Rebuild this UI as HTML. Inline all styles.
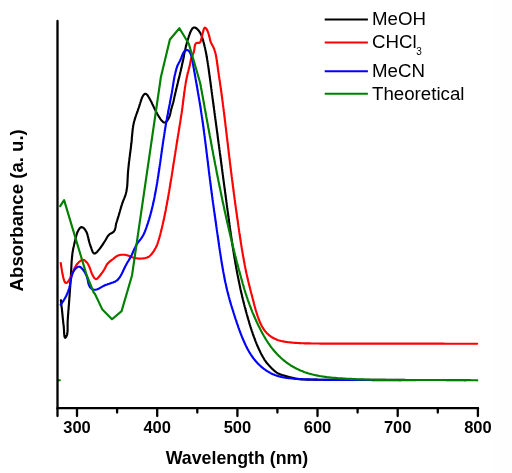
<!DOCTYPE html>
<html><head><meta charset="utf-8"><style>
html,body{margin:0;padding:0;background:#fff;}
body{width:512px;height:473px;overflow:hidden;position:relative;}
svg{position:absolute;left:0;top:0;will-change:transform;}
.strip{position:absolute;left:494px;top:0;width:18px;height:473px;background:#fefefe;}
text{font-family:"Liberation Sans",sans-serif;}
</style></head><body>
<div class="strip"></div>
<svg width="512" height="473" viewBox="0 0 512 473">
<g fill="none" stroke-linejoin="round" stroke-linecap="round" stroke-width="2.15">
<path d="M60.9 300.2 L61.0 301.2 L61.1 302.2 L61.2 303.2 L61.3 304.2 L61.4 305.2 L61.5 306.2 L61.7 307.2 L61.8 308.2 L61.9 309.1 L62.0 310.1 L62.1 311.1 L62.2 312.1 L62.3 313.1 L62.4 314.1 L62.5 315.1 L62.6 316.1 L62.7 317.1 L62.8 318.1 L62.9 319.1 L63.0 320.1 L63.1 321.1 L63.2 322.1 L63.3 323.1 L63.4 324.1 L63.6 325.1 L63.7 326.1 L63.8 327.0 L63.8 328.0 L63.9 329.0 L64.0 330.0 L64.0 331.0 L64.1 332.0 L64.1 333.0 L64.2 334.0 L64.3 335.0 L64.4 336.0 L64.6 337.0 L65.1 337.8 L65.9 337.2 L66.4 336.4 L66.8 335.5 L67.1 334.5 L67.3 333.5 L67.4 332.5 L67.5 331.5 L67.6 330.5 L67.6 329.5 L67.6 328.5 L67.6 327.5 L67.6 326.5 L67.6 325.5 L67.6 324.5 L67.6 323.5 L67.6 322.5 L67.7 321.5 L67.7 320.5 L67.8 319.5 L67.8 318.6 L67.9 317.6 L68.0 316.6 L68.0 315.6 L68.1 314.6 L68.2 313.6 L68.3 312.6 L68.3 311.6 L68.4 310.6 L68.5 309.6 L68.6 308.6 L68.7 307.6 L68.7 306.6 L68.8 305.6 L68.9 304.6 L69.0 303.6 L69.0 302.6 L69.1 301.6 L69.2 300.6 L69.3 299.6 L69.3 298.6 L69.4 297.6 L69.5 296.6 L69.6 295.6 L69.6 294.6 L69.7 293.6 L69.8 292.6 L69.9 291.6 L69.9 290.6 L70.0 289.6 L70.1 288.6 L70.1 287.6 L70.2 286.6 L70.3 285.6 L70.3 284.6 L70.4 283.6 L70.5 282.6 L70.5 281.7 L70.6 280.7 L70.7 279.7 L70.7 278.7 L70.8 277.7 L70.8 276.7 L70.9 275.7 L71.0 274.7 L71.0 273.7 L71.1 272.7 L71.1 271.7 L71.2 270.7 L71.2 269.7 L71.3 268.7 L71.3 267.7 L71.4 266.7 L71.4 265.7 L71.5 264.7 L71.5 263.7 L71.6 262.7 L71.6 261.7 L71.7 260.7 L71.8 259.7 L71.9 258.7 L72.0 257.7 L72.1 256.7 L72.2 255.7 L72.3 254.7 L72.4 253.7 L72.5 252.7 L72.7 251.7 L72.9 250.8 L73.0 249.8 L73.2 248.8 L73.4 247.8 L73.7 246.8 L73.9 245.9 L74.1 244.9 L74.3 243.9 L74.6 242.9 L74.8 242.0 L75.0 241.0 L75.2 240.0 L75.5 239.0 L75.7 238.1 L75.9 237.1 L76.2 236.1 L76.4 235.2 L76.7 234.2 L77.1 233.3 L77.4 232.3 L77.8 231.4 L78.3 230.5 L78.8 229.6 L79.3 228.8 L79.9 228.0 L80.7 227.4 L81.7 227.1 L82.6 227.4 L83.5 227.9 L84.2 228.6 L84.8 229.4 L85.4 230.2 L85.9 231.1 L86.4 231.9 L86.8 232.8 L87.2 233.8 L87.5 234.7 L87.7 235.7 L88.0 236.7 L88.2 237.6 L88.4 238.6 L88.6 239.6 L88.9 240.6 L89.1 241.5 L89.4 242.5 L89.7 243.5 L90.0 244.4 L90.3 245.4 L90.6 246.3 L91.0 247.2 L91.3 248.2 L91.6 249.1 L92.0 250.1 L92.3 251.0 L92.7 251.9 L93.2 252.8 L94.0 253.5 L94.9 253.5 L95.8 253.0 L96.6 252.4 L97.3 251.7 L97.9 250.9 L98.6 250.1 L99.2 249.4 L99.8 248.6 L100.4 247.8 L101.0 247.0 L101.6 246.2 L102.2 245.4 L102.7 244.5 L103.3 243.7 L103.8 242.8 L104.3 242.0 L104.9 241.1 L105.4 240.3 L105.9 239.4 L106.4 238.5 L106.9 237.7 L107.4 236.8 L107.9 236.0 L108.6 235.2 L109.3 234.5 L110.1 233.9 L110.9 233.4 L111.8 233.0 L112.7 232.5 L113.5 231.9 L114.1 231.1 L114.6 230.2 L115.0 229.3 L115.3 228.3 L115.5 227.4 L115.7 226.4 L115.8 225.4 L116.0 224.4 L116.2 223.4 L116.5 222.5 L116.8 221.5 L117.1 220.6 L117.4 219.6 L117.7 218.6 L118.0 217.7 L118.3 216.7 L118.6 215.8 L118.9 214.8 L119.2 213.9 L119.4 212.9 L119.7 212.0 L120.0 211.0 L120.2 210.0 L120.5 209.1 L120.8 208.1 L121.1 207.1 L121.4 206.2 L121.7 205.2 L122.0 204.3 L122.3 203.3 L122.6 202.4 L123.0 201.5 L123.3 200.5 L123.7 199.6 L124.1 198.7 L124.5 197.7 L124.8 196.8 L125.2 195.9 L125.5 194.9 L125.8 194.0 L126.0 193.0 L126.3 192.0 L126.5 191.0 L126.6 190.1 L126.8 189.1 L126.9 188.1 L127.1 187.1 L127.2 186.1 L127.3 185.1 L127.3 184.1 L127.4 183.1 L127.5 182.1 L127.5 181.1 L127.6 180.1 L127.6 179.1 L127.7 178.1 L127.7 177.1 L127.8 176.1 L127.8 175.1 L127.9 174.1 L127.9 173.1 L128.0 172.1 L128.1 171.1 L128.2 170.1 L128.3 169.1 L128.4 168.1 L128.5 167.1 L128.6 166.1 L128.7 165.2 L128.8 164.2 L128.9 163.2 L129.0 162.2 L129.1 161.2 L129.3 160.2 L129.4 159.2 L129.5 158.2 L129.6 157.2 L129.8 156.2 L129.9 155.2 L130.0 154.2 L130.1 153.2 L130.3 152.3 L130.4 151.3 L130.5 150.3 L130.7 149.3 L130.8 148.3 L130.9 147.3 L131.0 146.3 L131.1 145.3 L131.2 144.3 L131.4 143.3 L131.5 142.3 L131.6 141.3 L131.7 140.3 L131.8 139.3 L131.8 138.3 L131.9 137.3 L132.0 136.4 L132.1 135.4 L132.2 134.4 L132.3 133.4 L132.4 132.4 L132.5 131.4 L132.6 130.4 L132.7 129.4 L132.8 128.4 L133.0 127.4 L133.1 126.4 L133.3 125.4 L133.5 124.4 L133.7 123.5 L133.9 122.5 L134.1 121.5 L134.4 120.6 L134.7 119.6 L135.0 118.6 L135.3 117.7 L135.6 116.7 L135.9 115.8 L136.2 114.8 L136.6 113.9 L136.9 113.0 L137.3 112.0 L137.6 111.1 L137.9 110.1 L138.2 109.2 L138.6 108.2 L138.9 107.3 L139.2 106.3 L139.5 105.4 L139.8 104.4 L140.1 103.5 L140.4 102.5 L140.7 101.6 L141.0 100.6 L141.3 99.7 L141.7 98.7 L142.0 97.8 L142.4 96.9 L142.9 96.0 L143.4 95.2 L144.1 94.4 L144.9 93.8 L145.9 93.9 L146.7 94.4 L147.4 95.1 L148.0 95.9 L148.5 96.8 L149.0 97.6 L149.5 98.5 L150.0 99.4 L150.5 100.3 L150.9 101.1 L151.4 102.0 L151.8 102.9 L152.2 103.8 L152.7 104.7 L153.1 105.6 L153.5 106.5 L154.0 107.4 L154.4 108.3 L154.8 109.2 L155.3 110.1 L155.7 111.0 L156.2 111.9 L156.7 112.8 L157.1 113.7 L157.6 114.5 L158.2 115.4 L158.7 116.3 L159.2 117.1 L159.8 117.9 L160.3 118.8 L160.9 119.6 L161.5 120.4 L162.2 121.1 L162.9 121.8 L163.7 122.4 L164.7 122.5 L165.6 122.2 L166.4 121.6 L167.1 120.9 L167.7 120.0 L168.2 119.2 L168.7 118.3 L169.1 117.4 L169.5 116.5 L169.8 115.5 L170.1 114.6 L170.3 113.6 L170.5 112.6 L170.7 111.6 L170.9 110.7 L171.1 109.7 L171.4 108.7 L171.7 107.8 L171.9 106.8 L172.2 105.8 L172.5 104.9 L172.8 103.9 L173.1 103.0 L173.3 102.0 L173.6 101.0 L173.8 100.0 L174.0 99.1 L174.2 98.1 L174.4 97.1 L174.6 96.1 L174.9 95.2 L175.1 94.2 L175.3 93.2 L175.5 92.2 L175.8 91.3 L176.0 90.3 L176.2 89.3 L176.5 88.4 L176.7 87.4 L176.9 86.4 L177.2 85.4 L177.4 84.5 L177.6 83.5 L177.9 82.5 L178.1 81.5 L178.3 80.6 L178.6 79.6 L178.8 78.6 L179.1 77.7 L179.3 76.7 L179.5 75.7 L179.8 74.7 L180.0 73.8 L180.2 72.8 L180.5 71.8 L180.7 70.9 L180.9 69.9 L181.1 68.9 L181.4 67.9 L181.6 67.0 L181.8 66.0 L182.0 65.0 L182.2 64.0 L182.4 63.0 L182.7 62.1 L182.9 61.1 L183.1 60.1 L183.3 59.1 L183.5 58.2 L183.7 57.2 L183.9 56.2 L184.0 55.2 L184.2 54.2 L184.4 53.3 L184.6 52.3 L184.8 51.3 L185.0 50.3 L185.3 49.3 L185.5 48.4 L185.7 47.4 L185.9 46.4 L186.2 45.4 L186.4 44.5 L186.7 43.5 L186.9 42.5 L187.2 41.6 L187.5 40.6 L187.8 39.7 L188.1 38.7 L188.4 37.8 L188.7 36.8 L189.0 35.9 L189.4 34.9 L189.7 34.0 L190.1 33.0 L190.4 32.1 L190.8 31.2 L191.3 30.3 L191.8 29.4 L192.3 28.6 L193.0 27.9 L193.9 27.5 L194.9 27.5 L195.8 27.9 L196.7 28.5 L197.4 29.2 L198.1 29.9 L198.7 30.7 L199.3 31.5 L199.9 32.3 L200.4 33.2 L200.8 34.1 L201.3 35.0 L201.7 35.9 L202.0 36.8 L202.3 37.8 L202.6 38.7 L202.9 39.7 L203.2 40.7 L203.4 41.6 L203.7 42.6 L203.9 43.6 L204.2 44.5 L204.4 45.5 L204.6 46.5 L204.9 47.4 L205.1 48.4 L205.3 49.4 L205.5 50.4 L205.7 51.4 L205.9 52.3 L206.1 53.3 L206.3 54.3 L206.5 55.3 L206.6 56.3 L206.8 57.3 L207.0 58.2 L207.1 59.2 L207.3 60.2 L207.5 61.2 L207.6 62.2 L207.8 63.2 L207.9 64.2 L208.1 65.2 L208.2 66.1 L208.4 67.1 L208.5 68.1 L208.7 69.1 L208.8 70.1 L208.9 71.1 L209.1 72.1 L209.2 73.1 L209.3 74.1 L209.5 75.1 L209.6 76.0 L209.7 77.0 L209.9 78.0 L210.0 79.0 L210.1 80.0 L210.3 81.0 L210.4 82.0 L210.5 83.0 L210.7 84.0 L210.8 85.0 L210.9 86.0 L211.1 87.0 L211.2 87.9 L211.3 88.9 L211.5 89.9 L211.6 90.9 L211.7 91.9 L211.9 92.9 L212.0 93.9 L212.1 94.9 L212.3 95.9 L212.4 96.9 L212.5 97.9 L212.7 98.8 L212.8 99.8 L212.9 100.8 L213.1 101.8 L213.2 102.8 L213.3 103.8 L213.5 104.8 L213.6 105.8 L213.7 106.8 L213.9 107.8 L214.0 108.8 L214.1 109.7 L214.3 110.7 L214.4 111.7 L214.5 112.7 L214.7 113.7 L214.8 114.7 L214.9 115.7 L215.1 116.7 L215.2 117.7 L215.3 118.7 L215.5 119.7 L215.6 120.6 L215.7 121.6 L215.9 122.6 L216.0 123.6 L216.1 124.6 L216.3 125.6 L216.4 126.6 L216.5 127.6 L216.7 128.6 L216.8 129.6 L216.9 130.6 L217.1 131.6 L217.2 132.5 L217.3 133.5 L217.5 134.5 L217.6 135.5 L217.7 136.5 L217.8 137.5 L218.0 138.5 L218.1 139.5 L218.2 140.5 L218.4 141.5 L218.5 142.5 L218.6 143.4 L218.8 144.4 L218.9 145.4 L219.0 146.4 L219.2 147.4 L219.3 148.4 L219.4 149.4 L219.6 150.4 L219.7 151.4 L219.8 152.4 L220.0 153.4 L220.1 154.3 L220.2 155.3 L220.4 156.3 L220.5 157.3 L220.6 158.3 L220.8 159.3 L220.9 160.3 L221.0 161.3 L221.1 162.3 L221.3 163.3 L221.4 164.3 L221.5 165.3 L221.7 166.2 L221.8 167.2 L221.9 168.2 L222.1 169.2 L222.2 170.2 L222.3 171.2 L222.5 172.2 L222.6 173.2 L222.7 174.2 L222.9 175.2 L223.0 176.2 L223.1 177.2 L223.2 178.1 L223.4 179.1 L223.5 180.1 L223.6 181.1 L223.8 182.1 L223.9 183.1 L224.0 184.1 L224.2 185.1 L224.3 186.1 L224.4 187.1 L224.6 188.1 L224.7 189.0 L224.8 190.0 L225.0 191.0 L225.1 192.0 L225.2 193.0 L225.4 194.0 L225.5 195.0 L225.6 196.0 L225.8 197.0 L225.9 198.0 L226.0 199.0 L226.2 199.9 L226.3 200.9 L226.4 201.9 L226.6 202.9 L226.7 203.9 L226.8 204.9 L227.0 205.9 L227.1 206.9 L227.2 207.9 L227.4 208.9 L227.5 209.9 L227.6 210.9 L227.8 211.8 L227.9 212.8 L228.0 213.8 L228.2 214.8 L228.3 215.8 L228.4 216.8 L228.6 217.8 L228.7 218.8 L228.8 219.8 L229.0 220.8 L229.1 221.7 L229.3 222.7 L229.4 223.7 L229.5 224.7 L229.7 225.7 L229.8 226.7 L229.9 227.7 L230.1 228.7 L230.2 229.7 L230.4 230.7 L230.5 231.7 L230.6 232.6 L230.8 233.6 L230.9 234.6 L231.1 235.6 L231.2 236.6 L231.4 237.6 L231.5 238.6 L231.7 239.6 L231.8 240.6 L231.9 241.5 L232.1 242.5 L232.2 243.5 L232.4 244.5 L232.5 245.5 L232.7 246.5 L232.8 247.5 L233.0 248.5 L233.2 249.5 L233.3 250.4 L233.5 251.4 L233.6 252.4 L233.8 253.4 L233.9 254.4 L234.1 255.4 L234.3 256.4 L234.4 257.4 L234.6 258.3 L234.8 259.3 L234.9 260.3 L235.1 261.3 L235.3 262.3 L235.4 263.3 L235.6 264.3 L235.8 265.2 L236.0 266.2 L236.1 267.2 L236.3 268.2 L236.5 269.2 L236.7 270.2 L236.8 271.1 L237.0 272.1 L237.2 273.1 L237.4 274.1 L237.6 275.1 L237.8 276.1 L238.0 277.0 L238.2 278.0 L238.4 279.0 L238.6 280.0 L238.8 281.0 L239.0 281.9 L239.2 282.9 L239.4 283.9 L239.6 284.9 L239.8 285.9 L240.0 286.8 L240.2 287.8 L240.4 288.8 L240.6 289.8 L240.9 290.7 L241.1 291.7 L241.3 292.7 L241.5 293.7 L241.8 294.6 L242.0 295.6 L242.2 296.6 L242.4 297.6 L242.7 298.5 L242.9 299.5 L243.2 300.5 L243.4 301.4 L243.6 302.4 L243.9 303.4 L244.1 304.3 L244.4 305.3 L244.6 306.3 L244.9 307.2 L245.2 308.2 L245.4 309.2 L245.7 310.1 L245.9 311.1 L246.2 312.1 L246.5 313.0 L246.7 314.0 L247.0 315.0 L247.3 315.9 L247.5 316.9 L247.8 317.8 L248.1 318.8 L248.4 319.8 L248.7 320.7 L249.0 321.7 L249.2 322.6 L249.5 323.6 L249.8 324.6 L250.1 325.5 L250.4 326.5 L250.7 327.4 L251.0 328.4 L251.3 329.3 L251.6 330.3 L251.9 331.2 L252.3 332.2 L252.6 333.1 L252.9 334.1 L253.2 335.0 L253.6 336.0 L253.9 336.9 L254.3 337.8 L254.6 338.8 L255.0 339.7 L255.3 340.6 L255.7 341.6 L256.1 342.5 L256.4 343.4 L256.8 344.4 L257.2 345.3 L257.6 346.2 L258.0 347.1 L258.4 348.0 L258.8 348.9 L259.2 349.8 L259.7 350.7 L260.1 351.6 L260.5 352.5 L261.0 353.4 L261.4 354.3 L261.9 355.2 L262.4 356.1 L262.9 357.0 L263.4 357.8 L263.9 358.7 L264.4 359.6 L264.9 360.4 L265.5 361.2 L266.1 362.0 L266.7 362.8 L267.3 363.6 L268.0 364.3 L268.7 365.1 L269.3 365.8 L270.0 366.5 L270.7 367.3 L271.4 368.0 L272.1 368.7 L272.9 369.4 L273.6 370.1 L274.3 370.7 L275.1 371.4 L275.9 372.0 L276.7 372.6 L277.5 373.1 L278.4 373.6 L279.3 374.0 L280.2 374.4 L281.2 374.7 L282.1 375.1 L283.1 375.3 L284.1 375.6 L285.0 375.9 L286.0 376.1 L286.9 376.4 L287.9 376.7 L288.9 376.9 L289.8 377.2 L290.8 377.4 L291.8 377.7 L292.8 377.9 L293.7 378.1 L294.7 378.4 L295.7 378.6 L296.7 378.7 L297.6 378.9 L298.6 379.1 L299.6 379.2 L300.6 379.3 L301.6 379.4 L302.6 379.4 L303.6 379.5 L304.6 379.5 L305.6 379.5 L306.6 379.6 L307.6 379.6 L308.6 379.6 L309.6 379.6 L310.6 379.6 L311.6 379.6 L312.6 379.6 L313.6 379.6 L314.6 379.6 L315.6 379.6 L316.6 379.6 L317.6 379.7 L318.6 379.7 L319.6 379.7 L320.6 379.7 L321.6 379.7 L322.6 379.7 L323.6 379.7 L324.6 379.7 L325.6 379.7 L326.6 379.7 L327.6 379.7 L328.6 379.7 L329.6 379.7 L330.6 379.7 L331.6 379.7 L332.6 379.7 L333.6 379.8 L334.6 379.8 L335.6 379.8 L336.6 379.8 L337.6 379.8 L338.6 379.8 L339.6 379.8 L340.6 379.8 L341.6 379.8 L342.6 379.8 L343.6 379.8 L344.6 379.8 L345.6 379.8 L346.6 379.8 L347.6 379.8 L348.6 379.8 L349.6 379.8 L350.6 379.8 L351.6 379.8 L352.6 379.8 L353.6 379.8 L354.6 379.8 L355.6 379.8 L356.6 379.8 L357.6 379.8 L358.6 379.8 L359.6 379.8 L360.6 379.8 L361.6 379.8 L362.6 379.8 L363.6 379.8 L364.6 379.9 L365.6 379.9 L366.6 379.9 L367.6 379.9 L368.6 379.9 L369.6 379.9 L370.6 379.9 L371.6 379.9 L372.6 379.9 L373.6 379.9 L374.6 379.9 L375.6 379.9 L376.6 379.9 L377.6 379.9 L378.6 379.9 L379.6 379.9 L380.6 379.9 L381.6 379.9 L382.6 379.9 L383.6 379.9 L384.6 379.9 L385.6 379.9 L386.6 379.9 L387.6 379.9 L388.6 379.9 L389.6 379.9 L390.6 379.9 L391.6 379.9 L392.6 379.9 L393.6 379.9 L394.6 379.9 L395.6 379.9 L396.6 379.9 L397.6 379.9 L398.6 379.9 L399.6 379.9 L400.6 379.9 L401.6 379.9 L402.6 379.9 L403.6 379.9 L404.6 379.9 L405.6 380.0 L406.6 380.0 L407.6 380.0 L408.6 380.0 L409.6 380.0 L410.6 380.0 L411.6 380.0 L412.6 380.0 L413.6 380.0 L414.6 380.0 L415.6 380.0 L416.6 380.0 L417.6 380.0 L418.6 380.0 L419.6 380.0 L420.6 380.0 L421.6 380.0 L422.6 380.0 L423.6 380.0 L424.6 380.0 L425.6 380.0 L426.6 380.0 L427.6 380.0 L428.6 380.0 L429.6 380.0 L430.6 380.0 L431.6 380.0 L432.6 380.0 L433.6 380.0 L434.6 380.0 L435.6 380.0 L436.6 380.0 L437.6 380.0 L438.6 380.0 L439.6 380.0 L440.6 380.0 L441.6 380.0 L442.6 380.0 L443.6 380.0 L444.6 380.0 L445.6 380.0 L446.6 380.0 L447.6 380.0 L448.6 380.0 L449.6 380.0 L450.6 380.0 L451.6 380.0 L452.6 380.0 L453.6 380.0 L454.6 380.0 L455.6 380.0 L456.6 380.0 L457.6 380.0 L458.6 380.0 L459.6 380.0 L460.6 380.0 L461.6 380.0 L462.6 380.0 L463.6 380.0 L464.6 380.0 L465.6 380.0 L466.0 380.0" stroke="#000"/>
<path d="M60.7 263.0 L60.9 264.0 L61.0 265.0 L61.2 266.0 L61.4 266.9 L61.5 267.9 L61.7 268.9 L61.8 269.9 L62.0 270.9 L62.1 271.9 L62.3 272.9 L62.5 273.8 L62.7 274.8 L62.9 275.8 L63.1 276.8 L63.4 277.8 L63.6 278.7 L63.9 279.7 L64.2 280.6 L64.6 281.6 L65.1 282.4 L65.9 283.0 L66.8 282.8 L67.6 282.2 L68.2 281.4 L68.8 280.6 L69.3 279.7 L69.8 278.9 L70.3 278.0 L70.7 277.1 L71.1 276.2 L71.5 275.3 L71.9 274.4 L72.3 273.4 L72.7 272.5 L73.1 271.6 L73.5 270.7 L73.8 269.7 L74.3 268.8 L74.7 267.9 L75.2 267.0 L75.7 266.2 L76.2 265.3 L76.8 264.5 L77.4 263.7 L78.1 263.0 L78.8 262.3 L79.5 261.6 L80.3 261.0 L81.1 260.4 L82.0 260.0 L83.0 259.9 L84.0 260.1 L84.9 260.5 L85.6 261.2 L86.3 261.9 L87.0 262.6 L87.6 263.5 L88.1 264.3 L88.6 265.2 L89.0 266.1 L89.4 267.0 L89.8 267.9 L90.1 268.9 L90.5 269.8 L90.8 270.8 L91.1 271.7 L91.5 272.6 L91.9 273.6 L92.3 274.5 L92.7 275.4 L93.2 276.2 L93.7 277.1 L94.3 277.9 L95.0 278.6 L95.9 279.1 L96.8 278.9 L97.6 278.3 L98.3 277.6 L99.0 276.8 L99.6 276.0 L100.2 275.3 L100.8 274.5 L101.4 273.7 L102.0 272.9 L102.6 272.1 L103.2 271.2 L103.7 270.4 L104.3 269.5 L104.7 268.7 L105.2 267.8 L105.6 266.9 L106.1 266.0 L106.5 265.1 L107.1 264.2 L107.7 263.5 L108.4 262.7 L109.1 262.1 L109.9 261.4 L110.7 260.8 L111.5 260.2 L112.3 259.6 L113.1 259.0 L113.8 258.4 L114.6 257.7 L115.4 257.1 L116.2 256.5 L117.1 256.0 L118.0 255.6 L118.9 255.3 L119.9 255.0 L120.9 254.8 L121.9 254.7 L122.9 254.7 L123.9 254.7 L124.8 254.8 L125.8 255.0 L126.8 255.2 L127.8 255.5 L128.7 255.8 L129.6 256.2 L130.6 256.5 L131.5 256.9 L132.4 257.3 L133.4 257.6 L134.3 257.9 L135.3 258.1 L136.3 258.3 L137.3 258.4 L138.3 258.5 L139.3 258.6 L140.3 258.6 L141.3 258.5 L142.3 258.5 L143.3 258.4 L144.3 258.2 L145.3 258.1 L146.2 257.8 L147.2 257.5 L148.1 257.1 L148.9 256.6 L149.7 256.0 L150.5 255.3 L151.2 254.6 L151.8 253.8 L152.4 253.0 L153.0 252.2 L153.6 251.4 L154.1 250.6 L154.6 249.7 L155.1 248.8 L155.6 248.0 L156.1 247.1 L156.5 246.2 L156.9 245.3 L157.3 244.3 L157.6 243.4 L157.9 242.4 L158.2 241.5 L158.5 240.5 L158.8 239.6 L159.1 238.6 L159.4 237.6 L159.6 236.7 L159.9 235.7 L160.2 234.8 L160.4 233.8 L160.7 232.8 L160.9 231.8 L161.2 230.9 L161.4 229.9 L161.6 228.9 L161.9 228.0 L162.1 227.0 L162.3 226.0 L162.6 225.0 L162.8 224.1 L163.0 223.1 L163.2 222.1 L163.4 221.1 L163.7 220.2 L163.9 219.2 L164.1 218.2 L164.3 217.2 L164.5 216.3 L164.7 215.3 L164.9 214.3 L165.1 213.3 L165.3 212.3 L165.5 211.4 L165.7 210.4 L165.9 209.4 L166.0 208.4 L166.2 207.4 L166.4 206.4 L166.6 205.5 L166.8 204.5 L167.0 203.5 L167.1 202.5 L167.3 201.5 L167.5 200.5 L167.7 199.6 L167.9 198.6 L168.0 197.6 L168.2 196.6 L168.4 195.6 L168.6 194.6 L168.7 193.6 L168.9 192.7 L169.1 191.7 L169.2 190.7 L169.4 189.7 L169.6 188.7 L169.7 187.7 L169.9 186.7 L170.1 185.8 L170.2 184.8 L170.4 183.8 L170.5 182.8 L170.7 181.8 L170.9 180.8 L171.0 179.8 L171.2 178.9 L171.4 177.9 L171.5 176.9 L171.7 175.9 L171.8 174.9 L172.0 173.9 L172.1 172.9 L172.3 171.9 L172.5 171.0 L172.6 170.0 L172.8 169.0 L172.9 168.0 L173.1 167.0 L173.2 166.0 L173.4 165.0 L173.5 164.0 L173.7 163.1 L173.8 162.1 L174.0 161.1 L174.2 160.1 L174.3 159.1 L174.5 158.1 L174.6 157.1 L174.8 156.1 L174.9 155.1 L175.1 154.2 L175.2 153.2 L175.4 152.2 L175.5 151.2 L175.7 150.2 L175.9 149.2 L176.0 148.2 L176.2 147.2 L176.3 146.3 L176.5 145.3 L176.6 144.3 L176.8 143.3 L177.0 142.3 L177.1 141.3 L177.3 140.3 L177.4 139.3 L177.6 138.4 L177.7 137.4 L177.9 136.4 L178.1 135.4 L178.2 134.4 L178.4 133.4 L178.6 132.4 L178.7 131.4 L178.9 130.5 L179.0 129.5 L179.2 128.5 L179.4 127.5 L179.5 126.5 L179.7 125.5 L179.8 124.5 L180.0 123.6 L180.2 122.6 L180.3 121.6 L180.5 120.6 L180.6 119.6 L180.8 118.6 L180.9 117.6 L181.1 116.6 L181.2 115.6 L181.4 114.7 L181.5 113.7 L181.7 112.7 L181.8 111.7 L182.0 110.7 L182.1 109.7 L182.2 108.7 L182.4 107.7 L182.5 106.7 L182.6 105.7 L182.8 104.8 L182.9 103.8 L183.0 102.8 L183.1 101.8 L183.3 100.8 L183.4 99.8 L183.5 98.8 L183.6 97.8 L183.8 96.8 L183.9 95.8 L184.0 94.8 L184.1 93.8 L184.3 92.8 L184.4 91.9 L184.5 90.9 L184.7 89.9 L184.8 88.9 L184.9 87.9 L185.1 86.9 L185.3 85.9 L185.4 84.9 L185.6 83.9 L185.7 83.0 L185.9 82.0 L186.1 81.0 L186.3 80.0 L186.5 79.0 L186.7 78.0 L186.9 77.1 L187.1 76.1 L187.3 75.1 L187.5 74.1 L187.8 73.2 L188.0 72.2 L188.3 71.2 L188.5 70.3 L188.8 69.3 L189.0 68.3 L189.3 67.4 L189.5 66.4 L189.8 65.4 L190.0 64.4 L190.2 63.5 L190.3 62.5 L190.5 61.5 L190.7 60.5 L190.9 59.5 L191.2 58.6 L191.4 57.6 L191.8 56.7 L192.2 55.8 L192.6 54.9 L193.1 53.9 L193.4 53.0 L193.8 52.1 L194.0 51.1 L194.2 50.1 L194.4 49.1 L194.5 48.2 L194.6 47.2 L194.7 46.2 L195.0 45.2 L195.3 44.3 L195.9 43.4 L196.7 42.9 L197.7 42.8 L198.7 42.9 L199.7 42.6 L200.4 41.9 L200.8 41.0 L201.1 40.1 L201.3 39.1 L201.5 38.1 L201.7 37.2 L202.0 36.2 L202.2 35.2 L202.4 34.2 L202.7 33.3 L202.9 32.3 L203.2 31.3 L203.5 30.4 L203.7 29.4 L204.1 28.5 L204.8 27.7 L205.7 28.0 L206.3 28.7 L206.9 29.6 L207.3 30.5 L207.7 31.4 L208.1 32.3 L208.4 33.3 L208.7 34.2 L209.0 35.2 L209.2 36.2 L209.5 37.1 L209.7 38.1 L209.9 39.1 L210.1 40.1 L210.4 41.0 L210.7 42.0 L211.1 42.9 L211.6 43.8 L212.0 44.7 L212.5 45.5 L213.0 46.4 L213.4 47.3 L213.8 48.2 L214.2 49.2 L214.5 50.1 L214.8 51.1 L215.1 52.0 L215.4 53.0 L215.6 53.9 L215.8 54.9 L216.0 55.9 L216.2 56.9 L216.4 57.9 L216.5 58.9 L216.7 59.9 L216.8 60.8 L217.0 61.8 L217.1 62.8 L217.2 63.8 L217.4 64.8 L217.5 65.8 L217.7 66.8 L217.8 67.8 L217.9 68.8 L218.1 69.8 L218.2 70.7 L218.4 71.7 L218.5 72.7 L218.7 73.7 L218.8 74.7 L218.9 75.7 L219.1 76.7 L219.2 77.7 L219.4 78.7 L219.5 79.6 L219.7 80.6 L219.8 81.6 L220.0 82.6 L220.1 83.6 L220.2 84.6 L220.4 85.6 L220.5 86.6 L220.7 87.6 L220.8 88.6 L221.0 89.5 L221.1 90.5 L221.2 91.5 L221.4 92.5 L221.5 93.5 L221.6 94.5 L221.8 95.5 L221.9 96.5 L222.0 97.5 L222.2 98.5 L222.3 99.5 L222.4 100.4 L222.6 101.4 L222.7 102.4 L222.8 103.4 L222.9 104.4 L223.1 105.4 L223.2 106.4 L223.3 107.4 L223.5 108.4 L223.6 109.4 L223.7 110.4 L223.8 111.4 L224.0 112.4 L224.1 113.3 L224.2 114.3 L224.3 115.3 L224.4 116.3 L224.6 117.3 L224.7 118.3 L224.8 119.3 L224.9 120.3 L225.1 121.3 L225.2 122.3 L225.3 123.3 L225.4 124.3 L225.5 125.3 L225.6 126.2 L225.8 127.2 L225.9 128.2 L226.0 129.2 L226.1 130.2 L226.2 131.2 L226.4 132.2 L226.5 133.2 L226.6 134.2 L226.7 135.2 L226.8 136.2 L226.9 137.2 L227.1 138.2 L227.2 139.2 L227.3 140.1 L227.4 141.1 L227.5 142.1 L227.7 143.1 L227.8 144.1 L227.9 145.1 L228.0 146.1 L228.1 147.1 L228.2 148.1 L228.4 149.1 L228.5 150.1 L228.6 151.1 L228.7 152.1 L228.8 153.1 L228.9 154.1 L229.1 155.0 L229.2 156.0 L229.3 157.0 L229.4 158.0 L229.5 159.0 L229.7 160.0 L229.8 161.0 L229.9 162.0 L230.0 163.0 L230.1 164.0 L230.3 165.0 L230.4 166.0 L230.5 167.0 L230.6 168.0 L230.8 168.9 L230.9 169.9 L231.0 170.9 L231.1 171.9 L231.3 172.9 L231.4 173.9 L231.5 174.9 L231.6 175.9 L231.7 176.9 L231.9 177.9 L232.0 178.9 L232.1 179.9 L232.3 180.8 L232.4 181.8 L232.5 182.8 L232.6 183.8 L232.8 184.8 L232.9 185.8 L233.0 186.8 L233.2 187.8 L233.3 188.8 L233.4 189.8 L233.5 190.8 L233.7 191.8 L233.8 192.7 L233.9 193.7 L234.1 194.7 L234.2 195.7 L234.3 196.7 L234.5 197.7 L234.6 198.7 L234.7 199.7 L234.9 200.7 L235.0 201.7 L235.1 202.7 L235.3 203.7 L235.4 204.6 L235.5 205.6 L235.7 206.6 L235.8 207.6 L235.9 208.6 L236.1 209.6 L236.2 210.6 L236.4 211.6 L236.5 212.6 L236.6 213.6 L236.8 214.5 L236.9 215.5 L237.0 216.5 L237.2 217.5 L237.3 218.5 L237.5 219.5 L237.6 220.5 L237.8 221.5 L237.9 222.5 L238.0 223.5 L238.2 224.4 L238.3 225.4 L238.5 226.4 L238.6 227.4 L238.8 228.4 L238.9 229.4 L239.0 230.4 L239.2 231.4 L239.3 232.4 L239.5 233.4 L239.6 234.3 L239.8 235.3 L239.9 236.3 L240.1 237.3 L240.2 238.3 L240.4 239.3 L240.5 240.3 L240.7 241.3 L240.8 242.3 L241.0 243.2 L241.1 244.2 L241.3 245.2 L241.5 246.2 L241.6 247.2 L241.8 248.2 L241.9 249.2 L242.1 250.1 L242.3 251.1 L242.4 252.1 L242.6 253.1 L242.8 254.1 L242.9 255.1 L243.1 256.1 L243.3 257.0 L243.5 258.0 L243.6 259.0 L243.8 260.0 L244.0 261.0 L244.2 262.0 L244.4 263.0 L244.6 263.9 L244.7 264.9 L244.9 265.9 L245.1 266.9 L245.3 267.9 L245.5 268.8 L245.7 269.8 L245.9 270.8 L246.1 271.8 L246.3 272.8 L246.5 273.7 L246.8 274.7 L247.0 275.7 L247.2 276.7 L247.4 277.6 L247.6 278.6 L247.9 279.6 L248.1 280.6 L248.3 281.5 L248.6 282.5 L248.8 283.5 L249.0 284.4 L249.3 285.4 L249.5 286.4 L249.8 287.4 L250.0 288.3 L250.3 289.3 L250.5 290.3 L250.8 291.2 L251.0 292.2 L251.3 293.2 L251.5 294.1 L251.8 295.1 L252.0 296.1 L252.3 297.0 L252.5 298.0 L252.8 299.0 L253.0 299.9 L253.3 300.9 L253.5 301.9 L253.8 302.8 L254.0 303.8 L254.3 304.8 L254.5 305.7 L254.8 306.7 L255.1 307.7 L255.3 308.6 L255.6 309.6 L255.9 310.6 L256.2 311.5 L256.5 312.5 L256.8 313.4 L257.1 314.4 L257.4 315.3 L257.7 316.3 L258.0 317.2 L258.4 318.2 L258.7 319.1 L259.1 320.0 L259.4 321.0 L259.8 321.9 L260.2 322.8 L260.6 323.7 L261.1 324.6 L261.5 325.5 L262.0 326.4 L262.5 327.3 L263.0 328.1 L263.5 329.0 L264.1 329.8 L264.7 330.6 L265.3 331.4 L266.0 332.1 L266.6 332.9 L267.3 333.6 L268.1 334.3 L268.8 334.9 L269.6 335.6 L270.4 336.2 L271.2 336.8 L272.0 337.3 L272.9 337.8 L273.8 338.3 L274.7 338.7 L275.6 339.1 L276.5 339.5 L277.5 339.9 L278.4 340.2 L279.4 340.5 L280.3 340.7 L281.3 341.0 L282.3 341.2 L283.3 341.4 L284.2 341.6 L285.2 341.7 L286.2 341.9 L287.2 342.0 L288.2 342.2 L289.2 342.3 L290.2 342.4 L291.2 342.5 L292.2 342.6 L293.2 342.7 L294.2 342.8 L295.2 342.8 L296.2 342.9 L297.2 343.0 L298.2 343.0 L299.2 343.1 L300.2 343.1 L301.2 343.2 L302.2 343.2 L303.2 343.2 L304.2 343.3 L305.2 343.3 L306.2 343.3 L307.2 343.4 L308.2 343.4 L309.2 343.4 L310.2 343.4 L311.1 343.5 L312.1 343.5 L313.1 343.5 L314.1 343.5 L315.1 343.5 L316.1 343.5 L317.1 343.5 L318.1 343.5 L319.1 343.5 L320.1 343.6 L321.1 343.6 L322.1 343.6 L323.1 343.6 L324.1 343.6 L325.1 343.6 L326.1 343.6 L327.1 343.6 L328.1 343.6 L329.1 343.6 L330.1 343.6 L331.1 343.6 L332.1 343.6 L333.1 343.6 L334.1 343.6 L335.1 343.6 L336.1 343.6 L337.1 343.6 L338.1 343.6 L339.1 343.6 L340.1 343.6 L341.1 343.6 L342.1 343.6 L343.1 343.6 L344.1 343.6 L345.1 343.6 L346.1 343.6 L347.1 343.6 L348.1 343.6 L349.1 343.6 L350.1 343.6 L351.1 343.6 L352.1 343.6 L353.1 343.6 L354.1 343.6 L355.1 343.6 L356.1 343.6 L357.1 343.6 L358.1 343.6 L359.1 343.6 L360.1 343.6 L361.1 343.6 L362.1 343.6 L363.1 343.6 L364.1 343.6 L365.1 343.6 L366.1 343.6 L367.1 343.6 L368.1 343.6 L369.1 343.6 L370.1 343.6 L371.1 343.6 L372.1 343.6 L373.1 343.6 L374.1 343.6 L375.1 343.6 L376.1 343.6 L377.1 343.6 L378.1 343.6 L379.1 343.6 L380.1 343.6 L381.1 343.6 L382.1 343.6 L383.1 343.6 L384.1 343.6 L385.1 343.6 L386.1 343.6 L387.1 343.6 L388.1 343.6 L389.1 343.6 L390.1 343.6 L391.1 343.6 L392.1 343.6 L393.1 343.6 L394.1 343.6 L395.1 343.6 L396.1 343.6 L397.1 343.6 L398.1 343.6 L399.1 343.6 L400.1 343.6 L401.1 343.6 L402.1 343.6 L403.1 343.6 L404.1 343.6 L405.1 343.6 L406.1 343.6 L407.1 343.6 L408.1 343.6 L409.1 343.6 L410.1 343.6 L411.1 343.6 L412.1 343.6 L413.1 343.6 L414.1 343.6 L415.1 343.6 L416.1 343.6 L417.1 343.6 L418.1 343.6 L419.1 343.6 L420.1 343.6 L421.1 343.6 L422.1 343.6 L423.1 343.6 L424.1 343.6 L425.1 343.6 L426.1 343.6 L427.1 343.6 L428.1 343.6 L429.1 343.6 L430.1 343.6 L431.1 343.6 L432.1 343.6 L433.1 343.6 L434.1 343.6 L435.1 343.6 L436.1 343.6 L437.1 343.6 L438.1 343.6 L439.1 343.6 L440.1 343.6 L441.1 343.6 L442.1 343.6 L443.1 343.6 L444.1 343.6 L445.1 343.7 L446.1 343.7 L447.1 343.7 L448.1 343.7 L449.1 343.7 L450.1 343.7 L451.1 343.7 L452.1 343.7 L453.1 343.7 L454.1 343.7 L455.1 343.7 L456.1 343.7 L457.1 343.7 L458.1 343.7 L459.1 343.7 L460.1 343.7 L461.1 343.7 L462.1 343.7 L463.1 343.7 L464.1 343.7 L465.1 343.7 L466.1 343.7 L467.1 343.7 L468.1 343.7 L469.1 343.7 L470.1 343.7 L471.1 343.7 L472.1 343.7 L473.1 343.7 L474.1 343.7 L475.1 343.7 L476.1 343.7 L477.1 343.7 L477.2 343.7" stroke="#ff0000"/>
<path d="M60.7 304.6 L61.3 303.8 L61.9 303.0 L62.5 302.2 L63.0 301.3 L63.6 300.5 L64.1 299.7 L64.6 298.8 L65.1 297.9 L65.6 297.1 L66.1 296.2 L66.5 295.3 L66.9 294.4 L67.3 293.5 L67.7 292.5 L68.1 291.6 L68.4 290.7 L68.7 289.7 L69.0 288.8 L69.3 287.8 L69.5 286.8 L69.8 285.8 L70.0 284.9 L70.1 283.9 L70.3 282.9 L70.5 281.9 L70.7 280.9 L70.8 279.9 L71.0 279.0 L71.2 278.0 L71.5 277.0 L71.7 276.0 L72.0 275.1 L72.3 274.1 L72.6 273.2 L73.0 272.3 L73.5 271.4 L74.0 270.5 L74.6 269.7 L75.2 269.0 L76.0 268.3 L76.7 267.6 L77.6 267.1 L78.5 266.8 L79.5 266.7 L80.4 267.1 L81.2 267.7 L81.9 268.4 L82.6 269.2 L83.2 269.9 L83.8 270.8 L84.3 271.6 L84.9 272.4 L85.3 273.3 L85.8 274.2 L86.2 275.1 L86.6 276.0 L86.9 277.0 L87.2 277.9 L87.5 278.9 L87.7 279.9 L87.9 280.9 L88.1 281.8 L88.3 282.8 L88.5 283.8 L88.8 284.7 L89.2 285.7 L89.7 286.6 L90.2 287.4 L90.9 288.1 L91.7 288.7 L92.6 289.2 L93.5 289.5 L94.5 289.7 L95.5 289.7 L96.5 289.5 L97.4 289.2 L98.4 288.8 L99.3 288.4 L100.1 287.9 L101.0 287.4 L101.9 286.9 L102.7 286.4 L103.6 285.9 L104.5 285.5 L105.4 285.1 L106.4 284.7 L107.3 284.4 L108.2 284.0 L109.2 283.7 L110.1 283.4 L111.1 283.1 L112.0 282.8 L113.0 282.5 L113.9 282.1 L114.8 281.7 L115.7 281.2 L116.5 280.7 L117.3 280.1 L118.1 279.4 L118.7 278.6 L119.3 277.8 L119.9 277.0 L120.4 276.2 L120.9 275.3 L121.4 274.4 L121.9 273.5 L122.3 272.6 L122.8 271.7 L123.2 270.8 L123.6 269.9 L124.0 269.0 L124.5 268.1 L124.9 267.2 L125.3 266.3 L125.8 265.4 L126.3 264.5 L126.7 263.7 L127.2 262.8 L127.7 261.9 L128.3 261.1 L128.8 260.2 L129.3 259.4 L129.8 258.5 L130.3 257.6 L130.8 256.8 L131.2 255.9 L131.7 255.0 L132.1 254.1 L132.5 253.2 L132.9 252.3 L133.3 251.3 L133.7 250.4 L134.1 249.5 L134.5 248.6 L135.0 247.7 L135.4 246.8 L135.9 245.9 L136.3 245.0 L136.9 244.2 L137.4 243.3 L138.0 242.5 L138.6 241.7 L139.2 240.9 L139.8 240.2 L140.5 239.4 L141.1 238.6 L141.6 237.8 L142.2 236.9 L142.7 236.1 L143.2 235.2 L143.7 234.3 L144.1 233.4 L144.5 232.5 L144.9 231.6 L145.2 230.6 L145.6 229.7 L145.9 228.8 L146.3 227.8 L146.6 226.9 L146.9 225.9 L147.3 225.0 L147.6 224.0 L147.9 223.1 L148.2 222.1 L148.5 221.2 L148.8 220.2 L149.1 219.3 L149.4 218.3 L149.7 217.4 L149.9 216.4 L150.2 215.4 L150.5 214.5 L150.7 213.5 L151.0 212.5 L151.3 211.6 L151.5 210.6 L151.7 209.6 L152.0 208.7 L152.2 207.7 L152.4 206.7 L152.7 205.7 L152.9 204.8 L153.1 203.8 L153.3 202.8 L153.5 201.8 L153.8 200.9 L154.0 199.9 L154.2 198.9 L154.4 197.9 L154.6 196.9 L154.7 196.0 L154.9 195.0 L155.1 194.0 L155.3 193.0 L155.5 192.0 L155.7 191.0 L155.9 190.1 L156.0 189.1 L156.2 188.1 L156.4 187.1 L156.6 186.1 L156.7 185.1 L156.9 184.2 L157.1 183.2 L157.2 182.2 L157.4 181.2 L157.5 180.2 L157.7 179.2 L157.9 178.2 L158.0 177.2 L158.2 176.3 L158.3 175.3 L158.5 174.3 L158.6 173.3 L158.8 172.3 L158.9 171.3 L159.1 170.3 L159.2 169.3 L159.4 168.3 L159.5 167.4 L159.6 166.4 L159.8 165.4 L159.9 164.4 L160.1 163.4 L160.2 162.4 L160.4 161.4 L160.5 160.4 L160.6 159.4 L160.8 158.4 L160.9 157.5 L161.1 156.5 L161.2 155.5 L161.3 154.5 L161.5 153.5 L161.6 152.5 L161.8 151.5 L161.9 150.5 L162.0 149.5 L162.2 148.5 L162.3 147.6 L162.5 146.6 L162.6 145.6 L162.7 144.6 L162.9 143.6 L163.0 142.6 L163.2 141.6 L163.3 140.6 L163.5 139.6 L163.6 138.7 L163.8 137.7 L163.9 136.7 L164.1 135.7 L164.2 134.7 L164.4 133.7 L164.5 132.7 L164.7 131.7 L164.8 130.7 L165.0 129.8 L165.2 128.8 L165.3 127.8 L165.5 126.8 L165.6 125.8 L165.8 124.8 L166.0 123.8 L166.1 122.9 L166.3 121.9 L166.5 120.9 L166.7 119.9 L166.8 118.9 L167.0 117.9 L167.2 116.9 L167.4 116.0 L167.6 115.0 L167.8 114.0 L168.0 113.0 L168.1 112.0 L168.3 111.1 L168.5 110.1 L168.7 109.1 L168.9 108.1 L169.1 107.1 L169.3 106.1 L169.5 105.2 L169.7 104.2 L169.9 103.2 L170.0 102.2 L170.2 101.2 L170.4 100.3 L170.6 99.3 L170.8 98.3 L171.0 97.3 L171.2 96.3 L171.3 95.3 L171.5 94.4 L171.7 93.4 L171.9 92.4 L172.0 91.4 L172.2 90.4 L172.4 89.4 L172.5 88.4 L172.7 87.5 L172.8 86.5 L173.0 85.5 L173.2 84.5 L173.3 83.5 L173.5 82.5 L173.6 81.5 L173.8 80.5 L174.0 79.6 L174.2 78.6 L174.3 77.6 L174.5 76.6 L174.7 75.6 L174.9 74.7 L175.2 73.7 L175.4 72.7 L175.6 71.7 L175.9 70.8 L176.1 69.8 L176.4 68.8 L176.7 67.9 L177.0 66.9 L177.4 66.0 L177.7 65.1 L178.2 64.2 L178.6 63.3 L179.1 62.4 L179.6 61.5 L180.1 60.7 L180.5 59.8 L180.9 58.8 L181.3 57.9 L181.6 57.0 L182.0 56.0 L182.3 55.1 L182.7 54.2 L183.1 53.3 L183.6 52.4 L184.2 51.6 L184.9 50.9 L185.7 50.3 L186.7 50.0 L187.6 50.1 L188.5 50.6 L189.2 51.3 L189.7 52.2 L190.2 53.0 L190.7 53.9 L191.0 54.9 L191.3 55.8 L191.6 56.8 L191.9 57.7 L192.1 58.7 L192.3 59.7 L192.4 60.7 L192.6 61.7 L192.8 62.7 L192.9 63.6 L193.1 64.6 L193.3 65.6 L193.4 66.6 L193.6 67.6 L193.8 68.6 L194.0 69.6 L194.1 70.5 L194.3 71.5 L194.5 72.5 L194.7 73.5 L194.8 74.5 L195.0 75.5 L195.2 76.4 L195.4 77.4 L195.5 78.4 L195.7 79.4 L195.9 80.4 L196.1 81.4 L196.2 82.4 L196.4 83.3 L196.6 84.3 L196.7 85.3 L196.9 86.3 L197.1 87.3 L197.3 88.3 L197.4 89.3 L197.6 90.2 L197.8 91.2 L197.9 92.2 L198.1 93.2 L198.3 94.2 L198.5 95.2 L198.6 96.2 L198.8 97.1 L199.0 98.1 L199.1 99.1 L199.3 100.1 L199.5 101.1 L199.6 102.1 L199.8 103.1 L199.9 104.0 L200.1 105.0 L200.3 106.0 L200.4 107.0 L200.6 108.0 L200.7 109.0 L200.9 110.0 L201.0 111.0 L201.2 111.9 L201.3 112.9 L201.5 113.9 L201.6 114.9 L201.8 115.9 L201.9 116.9 L202.1 117.9 L202.2 118.9 L202.4 119.9 L202.5 120.8 L202.6 121.8 L202.8 122.8 L202.9 123.8 L203.1 124.8 L203.2 125.8 L203.3 126.8 L203.5 127.8 L203.6 128.8 L203.7 129.8 L203.9 130.8 L204.0 131.7 L204.1 132.7 L204.3 133.7 L204.4 134.7 L204.5 135.7 L204.7 136.7 L204.8 137.7 L204.9 138.7 L205.0 139.7 L205.2 140.7 L205.3 141.7 L205.4 142.7 L205.5 143.6 L205.7 144.6 L205.8 145.6 L205.9 146.6 L206.0 147.6 L206.2 148.6 L206.3 149.6 L206.4 150.6 L206.5 151.6 L206.6 152.6 L206.8 153.6 L206.9 154.6 L207.0 155.6 L207.1 156.5 L207.2 157.5 L207.4 158.5 L207.5 159.5 L207.6 160.5 L207.7 161.5 L207.9 162.5 L208.0 163.5 L208.1 164.5 L208.2 165.5 L208.3 166.5 L208.5 167.5 L208.6 168.5 L208.7 169.5 L208.8 170.4 L208.9 171.4 L209.1 172.4 L209.2 173.4 L209.3 174.4 L209.4 175.4 L209.6 176.4 L209.7 177.4 L209.8 178.4 L209.9 179.4 L210.1 180.4 L210.2 181.4 L210.3 182.4 L210.4 183.3 L210.6 184.3 L210.7 185.3 L210.8 186.3 L211.0 187.3 L211.1 188.3 L211.2 189.3 L211.3 190.3 L211.5 191.3 L211.6 192.3 L211.7 193.3 L211.9 194.2 L212.0 195.2 L212.1 196.2 L212.3 197.2 L212.4 198.2 L212.5 199.2 L212.7 200.2 L212.8 201.2 L212.9 202.2 L213.1 203.2 L213.2 204.2 L213.4 205.1 L213.5 206.1 L213.6 207.1 L213.8 208.1 L213.9 209.1 L214.0 210.1 L214.2 211.1 L214.3 212.1 L214.5 213.1 L214.6 214.1 L214.7 215.1 L214.9 216.0 L215.0 217.0 L215.2 218.0 L215.3 219.0 L215.4 220.0 L215.6 221.0 L215.7 222.0 L215.9 223.0 L216.0 224.0 L216.1 225.0 L216.3 225.9 L216.4 226.9 L216.6 227.9 L216.7 228.9 L216.8 229.9 L217.0 230.9 L217.1 231.9 L217.3 232.9 L217.4 233.9 L217.6 234.9 L217.7 235.8 L217.8 236.8 L218.0 237.8 L218.1 238.8 L218.3 239.8 L218.4 240.8 L218.6 241.8 L218.7 242.8 L218.8 243.8 L219.0 244.8 L219.1 245.7 L219.3 246.7 L219.4 247.7 L219.6 248.7 L219.7 249.7 L219.9 250.7 L220.0 251.7 L220.2 252.7 L220.3 253.7 L220.5 254.6 L220.6 255.6 L220.8 256.6 L220.9 257.6 L221.1 258.6 L221.2 259.6 L221.4 260.6 L221.5 261.6 L221.7 262.5 L221.9 263.5 L222.0 264.5 L222.2 265.5 L222.4 266.5 L222.5 267.5 L222.7 268.5 L222.9 269.4 L223.1 270.4 L223.2 271.4 L223.4 272.4 L223.6 273.4 L223.8 274.4 L224.0 275.3 L224.2 276.3 L224.3 277.3 L224.5 278.3 L224.7 279.3 L224.9 280.3 L225.1 281.2 L225.3 282.2 L225.6 283.2 L225.8 284.2 L226.0 285.1 L226.2 286.1 L226.4 287.1 L226.6 288.1 L226.9 289.0 L227.1 290.0 L227.3 291.0 L227.6 292.0 L227.8 292.9 L228.1 293.9 L228.3 294.9 L228.6 295.8 L228.8 296.8 L229.1 297.8 L229.4 298.7 L229.6 299.7 L229.9 300.7 L230.2 301.6 L230.4 302.6 L230.7 303.5 L231.0 304.5 L231.3 305.5 L231.6 306.4 L231.9 307.4 L232.2 308.3 L232.5 309.3 L232.8 310.2 L233.1 311.2 L233.4 312.1 L233.7 313.1 L234.0 314.0 L234.3 315.0 L234.6 315.9 L234.9 316.9 L235.2 317.8 L235.5 318.8 L235.8 319.7 L236.2 320.7 L236.5 321.6 L236.8 322.6 L237.1 323.5 L237.4 324.5 L237.8 325.4 L238.1 326.4 L238.4 327.3 L238.8 328.3 L239.1 329.2 L239.4 330.1 L239.8 331.1 L240.1 332.0 L240.5 333.0 L240.8 333.9 L241.2 334.8 L241.6 335.8 L241.9 336.7 L242.3 337.6 L242.7 338.5 L243.1 339.5 L243.5 340.4 L243.9 341.3 L244.3 342.2 L244.7 343.1 L245.1 344.0 L245.5 344.9 L245.9 345.8 L246.4 346.7 L246.8 347.6 L247.3 348.5 L247.8 349.4 L248.3 350.3 L248.7 351.1 L249.2 352.0 L249.8 352.9 L250.3 353.7 L250.8 354.6 L251.4 355.4 L251.9 356.2 L252.5 357.0 L253.1 357.8 L253.7 358.6 L254.3 359.4 L255.0 360.2 L255.6 361.0 L256.3 361.7 L256.9 362.5 L257.6 363.2 L258.3 363.9 L259.0 364.6 L259.7 365.3 L260.5 366.0 L261.2 366.7 L262.0 367.3 L262.8 367.9 L263.5 368.6 L264.3 369.2 L265.1 369.7 L266.0 370.3 L266.8 370.9 L267.6 371.4 L268.5 371.9 L269.4 372.4 L270.2 372.9 L271.1 373.4 L272.0 373.8 L272.9 374.2 L273.9 374.6 L274.8 375.0 L275.7 375.3 L276.7 375.6 L277.6 375.9 L278.6 376.2 L279.6 376.5 L280.5 376.7 L281.5 377.0 L282.5 377.2 L283.5 377.4 L284.4 377.5 L285.4 377.7 L286.4 377.9 L287.4 378.0 L288.4 378.1 L289.4 378.2 L290.4 378.3 L291.4 378.4 L292.4 378.5 L293.4 378.6 L294.4 378.7 L295.4 378.8 L296.4 378.8 L297.4 378.9 L298.4 379.0 L299.4 379.0 L300.4 379.1 L301.4 379.1 L302.4 379.2 L303.4 379.2 L304.4 379.3 L305.4 379.3 L306.4 379.3 L307.4 379.4 L308.4 379.4 L309.3 379.4 L310.3 379.5 L311.3 379.5 L312.3 379.5 L313.3 379.6 L314.3 379.6 L315.3 379.6 L316.3 379.6 L317.3 379.6 L318.3 379.7 L319.3 379.7 L320.3 379.7 L321.3 379.7 L322.3 379.7 L323.3 379.7 L324.3 379.8 L325.3 379.8 L326.3 379.8 L327.3 379.8 L328.3 379.8 L329.3 379.8 L330.3 379.8 L331.3 379.8 L332.3 379.8 L333.3 379.9 L334.3 379.9 L335.3 379.9 L336.3 379.9 L337.3 379.9 L338.3 379.9 L339.3 379.9 L340.3 379.9 L341.3 379.9 L342.3 379.9 L343.3 379.9 L344.3 379.9 L345.3 380.0 L346.3 380.0 L347.3 380.0 L348.3 380.0 L349.3 380.0 L350.3 380.0 L351.3 380.0 L352.3 380.0 L353.3 380.0 L354.3 380.0 L355.3 380.0 L356.3 380.0 L357.3 380.0 L358.3 380.0 L359.3 380.0 L360.3 380.0 L361.3 380.0 L362.3 380.0 L363.3 380.0 L364.3 380.0 L365.3 380.0 L366.3 380.0 L367.3 380.0 L368.3 380.0 L369.3 380.0 L370.3 380.0 L371.3 380.0 L372.3 380.1 L373.3 380.1 L374.3 380.1 L375.3 380.1 L376.3 380.1 L377.3 380.1 L378.3 380.1 L379.3 380.1 L380.3 380.1 L381.3 380.1 L382.3 380.1 L383.3 380.1 L384.3 380.1 L385.3 380.1 L386.3 380.1 L387.3 380.1 L388.3 380.1 L389.3 380.1 L390.3 380.1 L391.3 380.1 L392.3 380.1 L393.3 380.1 L394.3 380.1 L395.3 380.1 L396.3 380.1 L397.3 380.1 L398.3 380.1 L399.3 380.1 L400.3 380.1 L401.3 380.0 L402.3 380.0 L403.3 380.0 L404.3 380.0 L405.3 380.0 L406.3 380.0 L407.3 380.0 L408.3 380.0 L409.3 380.0 L410.3 380.0 L411.3 380.0 L412.3 380.0 L413.3 380.0 L414.3 380.0 L415.3 380.0 L416.3 380.0 L417.3 380.0 L418.3 380.0 L419.3 380.0 L420.3 380.0 L421.3 380.0 L422.3 380.0 L423.3 380.0 L424.3 380.0 L425.3 380.0 L426.3 380.0 L427.3 380.0 L428.3 380.0 L429.3 380.0 L430.3 380.0 L431.3 380.0 L432.3 380.0 L433.3 380.0 L434.3 380.0 L435.3 380.0 L436.3 380.0 L437.3 380.0 L438.3 380.0 L439.3 380.0 L440.3 380.0 L441.3 380.0 L442.3 380.0 L443.3 380.0 L444.3 380.0 L445.3 380.0 L446.3 380.1 L447.3 380.1 L448.3 380.1 L449.3 380.1 L450.3 380.1 L451.3 380.1 L452.3 380.1 L453.3 380.1 L454.3 380.1 L455.3 380.1 L456.3 380.1 L457.3 380.1 L458.3 380.1 L459.3 380.1 L460.3 380.1 L461.3 380.1 L462.3 380.1 L463.3 380.1 L464.3 380.1 L465.3 380.1 L466.0 380.1" stroke="#0000ff"/>
<path d="M60.2 206.1 L64.1 200.1 L86.6 275.0 L93.7 292.5 L95.0 294.0 L102.4 309.6 L112.0 319.2 L121.6 311.1 L132.0 275.5 L160.9 77.0 L169.9 39.5 L179.4 28.2 L188.8 43.8 L195.0 65.0 L200.1 82.8 L200.3 83.8 L200.5 84.7 L200.7 85.7 L200.9 86.7 L201.0 87.7 L201.2 88.7 L201.4 89.7 L201.6 90.6 L201.8 91.6 L201.9 92.6 L202.1 93.6 L202.3 94.6 L202.5 95.6 L202.7 96.6 L202.8 97.5 L203.0 98.5 L203.2 99.5 L203.4 100.5 L203.6 101.5 L203.7 102.5 L203.9 103.4 L204.1 104.4 L204.3 105.4 L204.5 106.4 L204.6 107.4 L204.8 108.4 L205.0 109.3 L205.2 110.3 L205.3 111.3 L205.5 112.3 L205.7 113.3 L205.9 114.3 L206.1 115.2 L206.2 116.2 L206.4 117.2 L206.6 118.2 L206.8 119.2 L207.0 120.2 L207.1 121.1 L207.3 122.1 L207.5 123.1 L207.7 124.1 L207.9 125.1 L208.0 126.1 L208.2 127.1 L208.4 128.0 L208.6 129.0 L208.8 130.0 L208.9 131.0 L209.1 132.0 L209.3 133.0 L209.5 133.9 L209.7 134.9 L209.8 135.9 L210.0 136.9 L210.2 137.9 L210.4 138.9 L210.6 139.8 L210.8 140.8 L210.9 141.8 L211.1 142.8 L211.3 143.8 L211.5 144.8 L211.7 145.7 L211.9 146.7 L212.0 147.7 L212.2 148.7 L212.4 149.7 L212.6 150.6 L212.8 151.6 L213.0 152.6 L213.1 153.6 L213.3 154.6 L213.5 155.6 L213.7 156.5 L213.9 157.5 L214.1 158.5 L214.3 159.5 L214.5 160.5 L214.6 161.5 L214.8 162.4 L215.0 163.4 L215.2 164.4 L215.4 165.4 L215.6 166.4 L215.8 167.3 L216.0 168.3 L216.2 169.3 L216.4 170.3 L216.5 171.3 L216.7 172.3 L216.9 173.2 L217.1 174.2 L217.3 175.2 L217.5 176.2 L217.7 177.2 L217.9 178.1 L218.1 179.1 L218.3 180.1 L218.5 181.1 L218.7 182.1 L218.9 183.0 L219.1 184.0 L219.3 185.0 L219.5 186.0 L219.7 187.0 L219.9 187.9 L220.1 188.9 L220.3 189.9 L220.5 190.9 L220.7 191.9 L220.9 192.8 L221.1 193.8 L221.3 194.8 L221.5 195.8 L221.7 196.8 L221.9 197.7 L222.1 198.7 L222.3 199.7 L222.5 200.7 L222.7 201.7 L222.9 202.6 L223.1 203.6 L223.4 204.6 L223.6 205.6 L223.8 206.5 L224.0 207.5 L224.2 208.5 L224.4 209.5 L224.6 210.4 L224.8 211.4 L225.0 212.4 L225.3 213.4 L225.5 214.4 L225.7 215.3 L225.9 216.3 L226.1 217.3 L226.3 218.3 L226.6 219.2 L226.8 220.2 L227.0 221.2 L227.2 222.2 L227.4 223.1 L227.7 224.1 L227.9 225.1 L228.1 226.1 L228.3 227.0 L228.6 228.0 L228.8 229.0 L229.0 230.0 L229.2 230.9 L229.5 231.9 L229.7 232.9 L229.9 233.9 L230.2 234.8 L230.4 235.8 L230.6 236.8 L230.8 237.7 L231.1 238.7 L231.3 239.7 L231.5 240.7 L231.8 241.6 L232.0 242.6 L232.3 243.6 L232.5 244.6 L232.7 245.5 L233.0 246.5 L233.2 247.5 L233.4 248.4 L233.7 249.4 L233.9 250.4 L234.2 251.3 L234.4 252.3 L234.7 253.3 L234.9 254.3 L235.1 255.2 L235.4 256.2 L235.6 257.2 L235.9 258.1 L236.1 259.1 L236.4 260.1 L236.6 261.0 L236.9 262.0 L237.1 263.0 L237.4 263.9 L237.6 264.9 L237.9 265.9 L238.2 266.8 L238.4 267.8 L238.7 268.8 L238.9 269.7 L239.2 270.7 L239.4 271.7 L239.7 272.6 L240.0 273.6 L240.2 274.6 L240.5 275.5 L240.8 276.5 L241.0 277.5 L241.3 278.4 L241.6 279.4 L241.8 280.4 L242.1 281.3 L242.4 282.3 L242.6 283.2 L242.9 284.2 L243.2 285.2 L243.5 286.1 L243.8 287.1 L244.0 288.0 L244.3 289.0 L244.6 290.0 L244.9 290.9 L245.2 291.9 L245.5 292.8 L245.8 293.8 L246.1 294.7 L246.4 295.7 L246.7 296.6 L247.1 297.6 L247.4 298.5 L247.7 299.5 L248.0 300.4 L248.4 301.4 L248.7 302.3 L249.0 303.2 L249.4 304.2 L249.7 305.1 L250.1 306.1 L250.4 307.0 L250.8 307.9 L251.1 308.9 L251.5 309.8 L251.9 310.7 L252.2 311.6 L252.6 312.6 L253.0 313.5 L253.4 314.4 L253.8 315.3 L254.2 316.3 L254.6 317.2 L255.0 318.1 L255.4 319.0 L255.8 319.9 L256.2 320.8 L256.6 321.7 L257.0 322.6 L257.5 323.5 L257.9 324.5 L258.3 325.4 L258.8 326.3 L259.2 327.1 L259.7 328.0 L260.1 328.9 L260.6 329.8 L261.0 330.7 L261.5 331.6 L262.0 332.5 L262.4 333.4 L262.9 334.2 L263.4 335.1 L263.9 336.0 L264.4 336.8 L264.9 337.7 L265.4 338.6 L266.0 339.4 L266.5 340.3 L267.0 341.1 L267.6 341.9 L268.1 342.8 L268.7 343.6 L269.3 344.4 L269.8 345.2 L270.4 346.1 L271.0 346.9 L271.6 347.7 L272.2 348.4 L272.8 349.2 L273.5 350.0 L274.1 350.8 L274.8 351.5 L275.4 352.3 L276.1 353.0 L276.8 353.8 L277.5 354.5 L278.2 355.2 L278.9 355.9 L279.6 356.6 L280.3 357.3 L281.0 358.0 L281.8 358.6 L282.5 359.3 L283.3 359.9 L284.1 360.6 L284.9 361.2 L285.6 361.8 L286.4 362.4 L287.3 363.0 L288.1 363.6 L288.9 364.2 L289.7 364.7 L290.6 365.3 L291.4 365.8 L292.3 366.3 L293.1 366.8 L294.0 367.3 L294.9 367.8 L295.8 368.2 L296.7 368.7 L297.6 369.1 L298.5 369.6 L299.4 370.0 L300.3 370.4 L301.2 370.8 L302.1 371.1 L303.1 371.5 L304.0 371.9 L304.9 372.2 L305.9 372.5 L306.8 372.9 L307.8 373.2 L308.7 373.5 L309.7 373.7 L310.7 374.0 L311.6 374.3 L312.6 374.5 L313.6 374.8 L314.5 375.0 L315.5 375.2 L316.5 375.4 L317.5 375.6 L318.4 375.8 L319.4 376.0 L320.4 376.2 L321.4 376.3 L322.4 376.5 L323.4 376.6 L324.4 376.8 L325.4 376.9 L326.4 377.0 L327.3 377.2 L328.3 377.3 L329.3 377.4 L330.3 377.5 L331.3 377.6 L332.3 377.7 L333.3 377.8 L334.3 377.8 L335.3 377.9 L336.3 378.0 L337.3 378.1 L338.3 378.2 L339.3 378.2 L340.3 378.3 L341.3 378.4 L342.3 378.4 L343.3 378.5 L344.3 378.5 L345.3 378.6 L346.3 378.7 L347.3 378.7 L348.3 378.8 L349.3 378.8 L350.3 378.9 L351.3 378.9 L352.3 379.0 L353.3 379.0 L354.3 379.1 L355.3 379.1 L356.3 379.2 L357.3 379.2 L358.3 379.3 L359.3 379.3 L360.3 379.3 L361.3 379.4 L362.3 379.4 L363.3 379.4 L364.3 379.5 L365.3 379.5 L366.3 379.5 L367.3 379.6 L368.3 379.6 L369.3 379.6 L370.3 379.7 L371.3 379.7 L372.3 379.7 L373.3 379.7 L374.3 379.8 L375.3 379.8 L376.3 379.8 L377.3 379.8 L378.3 379.8 L379.3 379.9 L380.3 379.9 L381.3 379.9 L382.3 379.9 L383.3 379.9 L384.3 379.9 L385.3 379.9 L386.3 380.0 L387.3 380.0 L388.3 380.0 L389.3 380.0 L390.3 380.0 L391.3 380.0 L392.3 380.0 L393.3 380.0 L394.3 380.0 L395.3 380.0 L396.3 380.0 L397.3 380.0 L398.3 380.0 L399.3 380.1 L400.3 380.1 L401.3 380.1 L402.3 380.1 L403.3 380.1 L404.3 380.1 L405.3 380.1 L406.3 380.1 L407.3 380.1 L408.3 380.1 L409.3 380.1 L410.3 380.1 L411.3 380.1 L412.3 380.1 L413.3 380.1 L414.3 380.1 L415.3 380.1 L416.3 380.0 L417.3 380.0 L418.3 380.0 L419.3 380.0 L420.3 380.0 L421.3 380.0 L422.3 380.0 L423.3 380.0 L424.3 380.0 L425.3 380.0 L426.3 380.0 L427.3 380.0 L428.3 380.0 L429.3 380.0 L430.3 380.0 L431.3 380.0 L432.3 380.0 L433.3 380.0 L434.3 380.0 L435.3 380.0 L436.3 380.0 L437.3 380.0 L438.3 380.0 L439.3 380.0 L440.3 380.0 L441.3 380.0 L442.3 380.0 L443.3 380.0 L444.3 380.0 L445.3 380.0 L446.3 380.0 L447.3 380.0 L448.3 380.0 L449.3 380.0 L450.3 380.0 L451.3 380.0 L452.3 380.0 L453.3 380.0 L454.3 380.0 L455.3 380.0 L456.3 380.0 L457.3 380.0 L458.3 380.0 L459.3 380.0 L460.3 380.0 L461.3 380.0 L462.3 380.0 L463.3 380.0 L464.3 380.1 L465.3 380.1 L466.3 380.1 L467.3 380.1 L468.3 380.1 L469.3 380.1 L470.3 380.1 L471.3 380.2 L472.3 380.2 L473.3 380.2 L474.3 380.2 L475.3 380.2 L476.3 380.2 L477.2 380.3" stroke="#008000"/>
<path d="M58 380.2 L59.8 380.2" stroke="#008000"/>
</g>
<g stroke="#000" stroke-width="2.3" fill="none" stroke-linecap="round">
<path d="M57.5 21 L57.5 408.2 L478 408.2"/>
<path d="M57.5 408.2 V416"/>
<path d="M77.0 408.2 V416"/>
<path d="M117.1 408.2 V412.5"/>
<path d="M157.2 408.2 V416"/>
<path d="M197.3 408.2 V412.5"/>
<path d="M237.4 408.2 V416"/>
<path d="M277.4 408.2 V412.5"/>
<path d="M317.5 408.2 V416"/>
<path d="M357.6 408.2 V412.5"/>
<path d="M397.7 408.2 V416"/>
<path d="M437.8 408.2 V412.5"/>
<path d="M477.9 408.2 V416"/>
</g>
<text x="77.0" y="433.3" font-size="16.5" font-weight="bold" text-anchor="middle">300</text>
<text x="157.2" y="433.3" font-size="16.5" font-weight="bold" text-anchor="middle">400</text>
<text x="237.4" y="433.3" font-size="16.5" font-weight="bold" text-anchor="middle">500</text>
<text x="317.5" y="433.3" font-size="16.5" font-weight="bold" text-anchor="middle">600</text>
<text x="397.7" y="433.3" font-size="16.5" font-weight="bold" text-anchor="middle">700</text>
<text x="477.9" y="433.3" font-size="16.5" font-weight="bold" text-anchor="middle">800</text>
<text x="237" y="463.8" font-size="17.8" font-weight="bold" text-anchor="middle">Wavelength (nm)</text>
<text transform="translate(23,210.3) rotate(-90)" font-size="18.6" font-weight="bold" text-anchor="middle">Absorbance (a. u.)</text>
<g stroke-width="2" fill="none">
<path d="M324.7 19.5 H367.9" stroke="#000"/>
<path d="M324.7 42.4 H367.9" stroke="#ff0000"/>
<path d="M324.7 71.3 H367.9" stroke="#0000ff"/>
<path d="M324.7 93.7 H367.9" stroke="#008000"/>
</g>
<text x="372" y="25.3" font-size="18.7">MeOH</text>
<text x="372" y="47.9" font-size="18.7">CHCl</text>
<text x="372" y="77.0" font-size="18.7">MeCN</text>
<text x="372" y="100.2" font-size="18.7">Theoretical</text>
<text x="416.3" y="55.3" font-size="10">3</text>
</svg>
</body></html>
